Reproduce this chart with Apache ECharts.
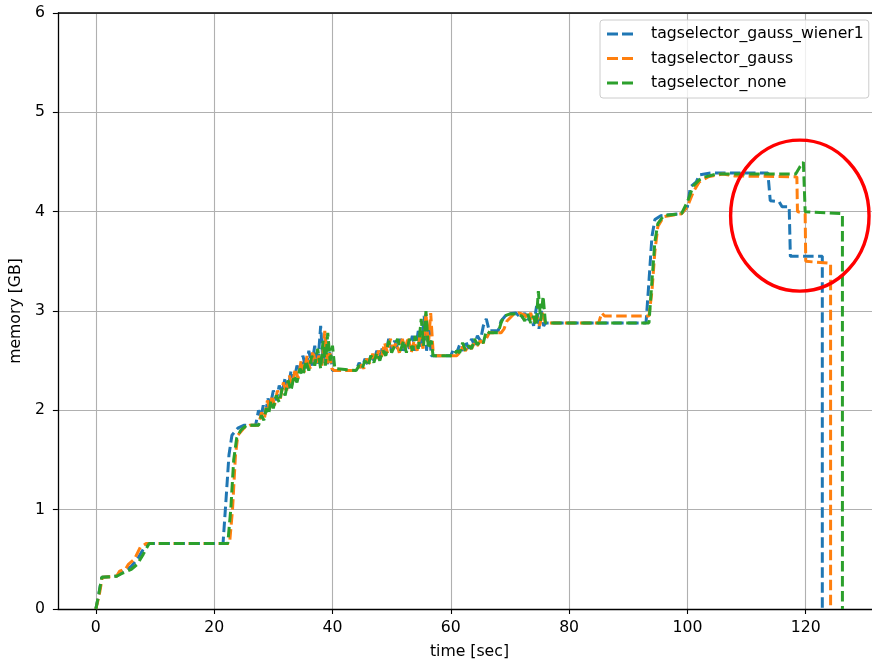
<!DOCTYPE html>
<html>
<head>
<meta charset="utf-8">
<script src="https://cdn.jsdelivr.net/npm/echarts@6/dist/echarts.min.js"></script>
<style>
html,body{margin:0;padding:0;background:#fff;}
#chart{width:872px;height:665px;}
</style>
</head>
<body>
<div id="chart"></div>
<script>
// ---- data (time [sec], memory [GB]) ----
const seriesNames = ['tagselector_gauss_wiener1', 'tagselector_gauss', 'tagselector_none'];
const xTicks = [0, 20, 40, 60, 80, 100, 120];
const yTicks = [0, 1, 2, 3, 4, 5, 6];

const wiener1 = [[0,0],[0.5,0.15],[1,0.32],[3.5,0.33],[4.5,0.37],[6,0.43],[7,0.5],[8,0.6],[8.7,0.66],[21.5,0.66],[22,1.1],[22.5,1.55],[23,1.75],[24,1.82],[25,1.85],[27,1.85],[27.5,2.0],[27.9,1.93],[28.3,2.05],[28.7,1.98],[29.1,2.12],[29.5,2.05],[30,2.2],[30.5,2.1],[31,2.25],[31.5,2.18],[32,2.33],[32.5,2.22],[33,2.4],[33.5,2.3],[34,2.45],[34.5,2.38],[35,2.55],[35.5,2.42],[36,2.6],[36.5,2.45],[37,2.65],[37.5,2.45],[38,2.85],[38.4,2.48],[38.8,2.75],[39.2,2.45],[39.6,2.6],[40,2.4],[44,2.4],[44.5,2.48],[45,2.43],[45.5,2.52],[46,2.46],[46.5,2.55],[47,2.5],[47.5,2.6],[48,2.52],[48.5,2.65],[49,2.56],[49.5,2.72],[50,2.6],[50.5,2.7],[51,2.62],[51.5,2.72],[52,2.6],[52.5,2.7],[53,2.62],[53.5,2.75],[54,2.6],[54.5,2.8],[55,2.62],[55.5,2.95],[55.9,2.6],[56.3,2.85],[56.7,2.55],[60,2.55],[60.5,2.62],[61,2.58],[61.5,2.66],[62,2.6],[62.5,2.7],[63,2.62],[63.5,2.72],[64,2.66],[64.5,2.75],[65,2.7],[65.5,2.85],[66,2.92],[66.5,2.8],[68,2.8],[68.5,2.9],[69.5,2.97],[71,2.98],[72,2.92],[72.5,2.98],[73,2.9],[73.5,2.96],[74,2.85],[74.5,3.05],[74.9,2.82],[75.3,3.0],[75.7,2.85],[76,2.88],[93,2.88],[93.5,3.3],[94,3.75],[94.5,3.92],[95.5,3.96],[99,3.98],[100,4.05],[100.5,4.25],[101.5,4.3],[102,4.37],[104,4.39],[113.6,4.39],[114,4.11],[115.5,4.1],[116,4.05],[117.2,4.05],[117.4,3.55],[122.8,3.55],[122.8,0]];

const gauss = [[0,0],[0.6,0.15],[1.1,0.32],[3.5,0.33],[4,0.38],[5,0.4],[5.5,0.45],[6.5,0.5],[7.5,0.62],[8.5,0.66],[22.6,0.66],[23.1,1.0],[23.6,1.55],[24,1.75],[25,1.82],[26,1.85],[27.5,1.85],[28,1.98],[28.5,1.92],[29,2.1],[29.4,2.0],[29.8,2.15],[30.2,2.05],[30.7,2.2],[31.2,2.12],[31.7,2.28],[32.2,2.18],[32.7,2.35],[33.2,2.25],[33.7,2.42],[34.2,2.32],[34.7,2.5],[35.2,2.38],[35.7,2.55],[36.2,2.42],[36.7,2.6],[37.2,2.45],[37.7,2.55],[38.2,2.45],[38.7,2.8],[39.1,2.45],[39.5,2.6],[39.9,2.42],[40.3,2.4],[44.3,2.4],[44.8,2.46],[45.3,2.42],[45.8,2.52],[46.3,2.47],[46.8,2.57],[47.3,2.5],[47.8,2.6],[48.3,2.54],[48.8,2.68],[49.3,2.58],[49.8,2.72],[50.3,2.62],[50.8,2.68],[51.3,2.58],[51.8,2.72],[52.3,2.62],[52.8,2.74],[53.3,2.58],[53.8,2.7],[54.3,2.6],[54.8,2.75],[55.3,2.62],[55.8,2.98],[56.2,2.65],[56.6,2.98],[57,2.6],[57.4,2.55],[61,2.55],[61.5,2.58],[62,2.64],[62.5,2.6],[63,2.66],[63.5,2.62],[64,2.68],[64.5,2.65],[65,2.7],[65.5,2.68],[66,2.72],[66.5,2.78],[68.5,2.78],[69,2.82],[69.5,2.9],[70.5,2.96],[71.5,2.98],[72.5,2.96],[73,2.92],[73.5,2.98],[74,2.88],[74.5,2.95],[75,2.85],[75.5,2.98],[76,2.88],[85,2.88],[85.5,2.98],[86,2.95],[93.5,2.95],[94,3.2],[94.5,3.6],[95,3.85],[96,3.95],[99,3.98],[100,4.05],[101,4.2],[102,4.3],[103.5,4.35],[106,4.38],[108,4.36],[118.5,4.35],[118.6,4.0],[119.9,3.98],[120,3.5],[124.2,3.48],[124.2,0]];

const none = [[0,0],[0.5,0.15],[1,0.32],[3.5,0.33],[4.5,0.36],[6,0.4],[7,0.45],[8,0.55],[9,0.66],[22.3,0.66],[22.8,1.0],[23.3,1.5],[23.8,1.72],[24.5,1.8],[25.5,1.85],[27.5,1.85],[28,1.95],[28.4,1.9],[28.8,2.02],[29.2,1.96],[29.6,2.1],[30,2.02],[30.5,2.15],[31,2.08],[31.5,2.22],[32,2.15],[32.5,2.3],[33,2.2],[33.5,2.35],[34,2.28],[34.5,2.42],[35,2.35],[35.5,2.5],[36,2.4],[36.5,2.55],[37,2.45],[37.5,2.62],[38,2.42],[38.4,2.7],[38.8,2.45],[39.2,2.78],[39.6,2.5],[40,2.65],[40.4,2.42],[44,2.4],[44.5,2.45],[45,2.42],[45.5,2.5],[46,2.45],[46.5,2.55],[47,2.48],[47.5,2.58],[48,2.5],[48.5,2.6],[49,2.55],[49.5,2.7],[50,2.58],[50.5,2.65],[51,2.72],[51.5,2.6],[52,2.7],[52.5,2.58],[53,2.72],[53.5,2.6],[54,2.75],[54.5,2.62],[55,2.92],[55.4,2.65],[55.8,3.0],[56.2,2.62],[56.7,2.7],[57,2.55],[60.5,2.55],[61,2.6],[61.5,2.58],[62,2.68],[62.5,2.6],[63,2.65],[63.5,2.62],[64,2.72],[64.5,2.66],[65,2.7],[65.5,2.68],[66,2.8],[66.5,2.78],[68,2.78],[68.5,2.88],[69,2.95],[70,2.97],[71,2.97],[72,2.95],[72.5,2.9],[73,2.97],[73.5,2.88],[74,2.95],[74.4,2.85],[74.8,3.2],[75.2,2.9],[75.6,3.15],[76,2.88],[93.5,2.88],[94,3.3],[94.5,3.7],[95,3.88],[96,3.96],[99,3.98],[100,4.1],[101,4.26],[102,4.32],[103,4.35],[105,4.38],[118.3,4.38],[119,4.45],[119.6,4.5],[119.9,4.0],[126.2,3.98],[126.2,0]];

const seriesData = [wiener1, gauss, none];
const colors = ['#1f77b4', '#ff7f0e', '#2ca02c'];

// annotation ellipse (data units): center and radii
const markCenter = [119.0, 3.96];
const markRadius = [11.7, 0.76];

const FONT = 'DejaVu Sans';
const FS = 15.7;
const chart = echarts.init(document.getElementById('chart'), null, {renderer: 'canvas'});

const dashIcon = 'path://M0,0H11V3H0Z M15,0H26V3H15Z';

const option = {
  animation: false,
  backgroundColor: '#ffffff',
  textStyle: {fontFamily: FONT},
  grid: {left: 57, right: 0, top: 13, bottom: 53, containLabel: false},
  legend: {
    orient: 'vertical',
    left: 600, top: 20,
    padding: [6, 5, 7, 7],
    itemGap: 8.5,
    itemWidth: 26, itemHeight: 3,
    backgroundColor: 'rgba(255,255,255,0.8)',
    borderColor: '#cccccc', borderWidth: 1, borderRadius: 3,
    textStyle: {fontFamily: FONT, fontSize: FS, color: '#000', padding: [0, 0, 0, 13]},
    data: seriesNames.map(n => ({name: n, icon: dashIcon}))
  },
  xAxis: {
    type: 'value',
    min: -6.42, max: 131.2,
    name: 'time [sec]', nameLocation: 'middle', nameGap: 35,
    nameTextStyle: {fontFamily: FONT, fontSize: FS, color: '#000', padding: [0, 0, 0, 9]},
    axisLine: {show: true, onZero: false, lineStyle: {color: '#000', width: 1.3}},
    axisTick: {show: true, inside: false, length: 5, lineStyle: {color: '#000', width: 1.1}, customValues: xTicks},
    axisLabel: {fontFamily: FONT, fontSize: FS, color: '#000', margin: 11, customValues: xTicks},
    splitLine: {show: true, lineStyle: {color: '#b0b0b0', width: 1.1}}
  },
  yAxis: {
    type: 'value',
    min: 0, max: 6, interval: 1,
    name: 'memory [GB]', nameLocation: 'middle', nameGap: 31,
    nameTextStyle: {fontFamily: FONT, fontSize: FS, color: '#000'},
    axisLine: {show: true, onZero: false, lineStyle: {color: '#000', width: 1.3}},
    axisTick: {show: true, length: 5, lineStyle: {color: '#000', width: 1.1}},
    axisLabel: {fontFamily: FONT, fontSize: FS, color: '#000', margin: 13},
    splitLine: {show: true, lineStyle: {color: '#b0b0b0', width: 1.1}}
  },
  series: seriesNames.map((n, i) => ({
    name: n,
    type: 'line',
    data: seriesData[i],
    showSymbol: false,
    symbol: 'none',
    color: colors[i],
    lineStyle: {color: colors[i], width: 3, type: [10.5, 4.5]},
    z: 3 + i
  }))
};
chart.setOption(option);

// top spine + annotation ellipse
const c = chart.convertToPixel({gridIndex: 0}, markCenter);
const e = chart.convertToPixel({gridIndex: 0}, [markCenter[0] + markRadius[0], markCenter[1] + markRadius[1]]);
const topLeft = chart.convertToPixel({gridIndex: 0}, [-6.42, 6]);
chart.setOption({
  graphic: [
    {type: 'line', shape: {x1: topLeft[0], y1: topLeft[1], x2: 872, y2: topLeft[1]}, style: {stroke: '#000', lineWidth: 1.3}, z: 10},
    {type: 'ellipse', shape: {cx: c[0], cy: c[1], rx: Math.abs(e[0] - c[0]), ry: Math.abs(e[1] - c[1])}, style: {fill: 'none', stroke: '#ff0000', lineWidth: 3.4}, z: 20}
  ]
});
</script>
</body>
</html>
